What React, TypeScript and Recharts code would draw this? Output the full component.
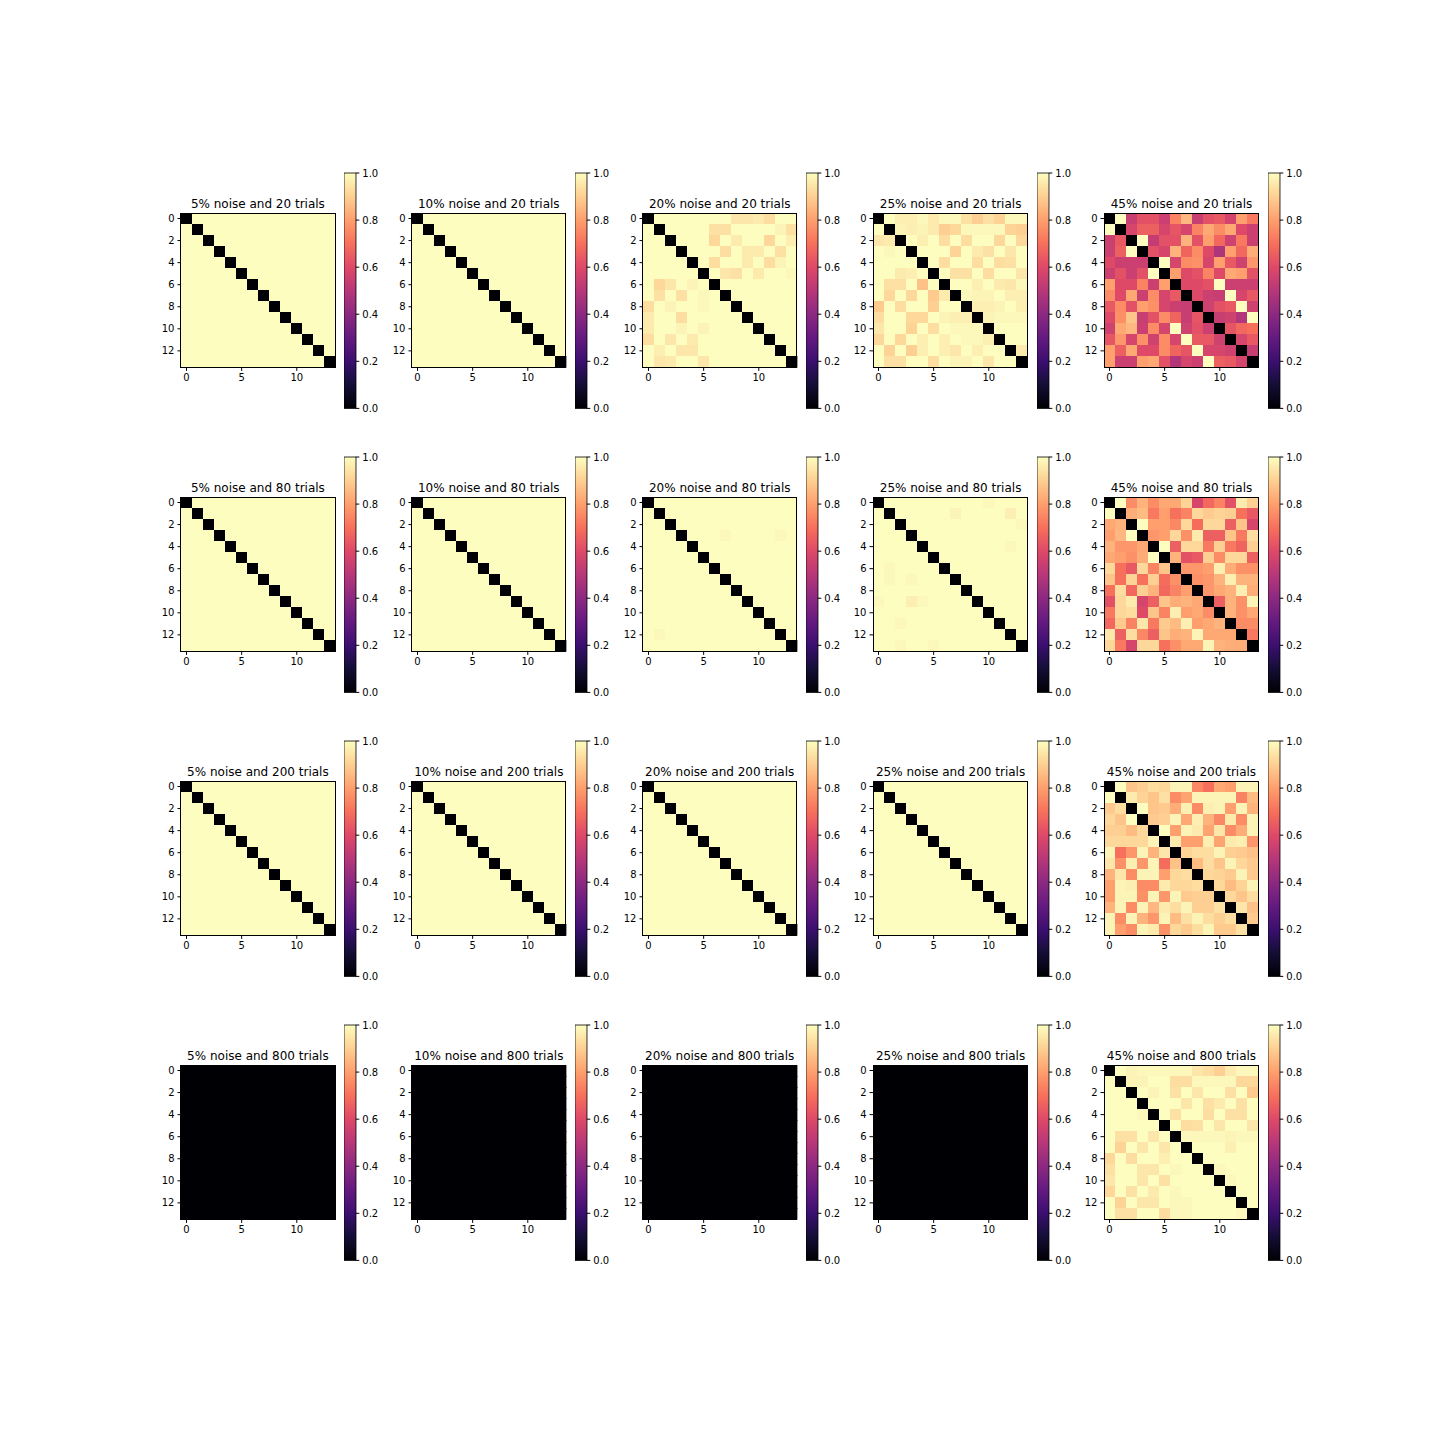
import { ScatterChart, Scatter, XAxis, YAxis, BarChart, Bar } from "recharts";

const NOISE = ["5%", "10%", "20%", "25%", "45%"];
const TRIALS = [20, 80, 200, 800];
const X_TICKS = [0, 5, 10];
const Y_TICKS = [0, 2, 4, 6, 8, 10, 12];
const CB_TICKS = [0, 0.2, 0.4, 0.6, 0.8, 1.0];

// cell values in hundredths, row by row
const IDENT = [
  [0, 100, 100, 100, 100, 100, 100, 100, 100, 100, 100, 100, 100, 100],
  [100, 0, 100, 100, 100, 100, 100, 100, 100, 100, 100, 100, 100, 100],
  [100, 100, 0, 100, 100, 100, 100, 100, 100, 100, 100, 100, 100, 100],
  [100, 100, 100, 0, 100, 100, 100, 100, 100, 100, 100, 100, 100, 100],
  [100, 100, 100, 100, 0, 100, 100, 100, 100, 100, 100, 100, 100, 100],
  [100, 100, 100, 100, 100, 0, 100, 100, 100, 100, 100, 100, 100, 100],
  [100, 100, 100, 100, 100, 100, 0, 100, 100, 100, 100, 100, 100, 100],
  [100, 100, 100, 100, 100, 100, 100, 0, 100, 100, 100, 100, 100, 100],
  [100, 100, 100, 100, 100, 100, 100, 100, 0, 100, 100, 100, 100, 100],
  [100, 100, 100, 100, 100, 100, 100, 100, 100, 0, 100, 100, 100, 100],
  [100, 100, 100, 100, 100, 100, 100, 100, 100, 100, 0, 100, 100, 100],
  [100, 100, 100, 100, 100, 100, 100, 100, 100, 100, 100, 0, 100, 100],
  [100, 100, 100, 100, 100, 100, 100, 100, 100, 100, 100, 100, 0, 100],
  [100, 100, 100, 100, 100, 100, 100, 100, 100, 100, 100, 100, 100, 0],
];

const ZERO = [
  [0, 0, 0, 0, 0, 0, 0, 0, 0, 0, 0, 0, 0, 0],
  [0, 0, 0, 0, 0, 0, 0, 0, 0, 0, 0, 0, 0, 0],
  [0, 0, 0, 0, 0, 0, 0, 0, 0, 0, 0, 0, 0, 0],
  [0, 0, 0, 0, 0, 0, 0, 0, 0, 0, 0, 0, 0, 0],
  [0, 0, 0, 0, 0, 0, 0, 0, 0, 0, 0, 0, 0, 0],
  [0, 0, 0, 0, 0, 0, 0, 0, 0, 0, 0, 0, 0, 0],
  [0, 0, 0, 0, 0, 0, 0, 0, 0, 0, 0, 0, 0, 0],
  [0, 0, 0, 0, 0, 0, 0, 0, 0, 0, 0, 0, 0, 0],
  [0, 0, 0, 0, 0, 0, 0, 0, 0, 0, 0, 0, 0, 0],
  [0, 0, 0, 0, 0, 0, 0, 0, 0, 0, 0, 0, 0, 0],
  [0, 0, 0, 0, 0, 0, 0, 0, 0, 0, 0, 0, 0, 0],
  [0, 0, 0, 0, 0, 0, 0, 0, 0, 0, 0, 0, 0, 0],
  [0, 0, 0, 0, 0, 0, 0, 0, 0, 0, 0, 0, 0, 0],
  [0, 0, 0, 0, 0, 0, 0, 0, 0, 0, 0, 0, 0, 0],
];

const M20_20 = [
  [0, 100, 100, 100, 100, 100, 100, 100, 95, 95, 96, 93, 100, 100],
  [100, 0, 100, 100, 100, 100, 94, 94, 100, 100, 100, 100, 98, 94],
  [100, 100, 0, 100, 100, 100, 92, 100, 96, 100, 100, 92, 100, 97],
  [100, 100, 100, 0, 100, 100, 100, 93, 100, 96, 96, 100, 94, 100],
  [100, 100, 100, 100, 0, 100, 93, 100, 100, 96, 100, 93, 98, 100],
  [100, 100, 100, 100, 100, 0, 100, 95, 94, 100, 96, 100, 100, 99],
  [100, 92, 95, 100, 98, 100, 0, 100, 100, 100, 100, 100, 100, 100],
  [100, 94, 100, 94, 100, 99, 100, 0, 100, 100, 100, 100, 100, 100],
  [93, 100, 98, 100, 100, 99, 100, 100, 0, 100, 100, 100, 100, 100],
  [96, 100, 100, 93, 100, 100, 100, 100, 100, 0, 100, 100, 100, 100],
  [96, 100, 100, 98, 100, 98, 100, 100, 100, 100, 0, 100, 100, 100],
  [93, 100, 95, 100, 96, 100, 100, 100, 100, 100, 100, 0, 100, 100],
  [100, 97, 100, 95, 95, 100, 100, 100, 100, 100, 100, 100, 0, 100],
  [100, 95, 96, 100, 100, 95, 100, 100, 100, 100, 100, 100, 100, 0],
];

const M25_20 = [
  [0, 100, 97, 97, 99, 96, 99, 99, 94, 90, 94, 91, 99, 99],
  [100, 0, 98, 97, 98, 96, 90, 92, 99, 99, 99, 99, 91, 90],
  [95, 96, 0, 100, 97, 100, 93, 100, 93, 100, 100, 92, 100, 92],
  [100, 99, 100, 0, 100, 100, 100, 91, 100, 96, 94, 100, 95, 100],
  [100, 100, 100, 100, 0, 100, 93, 100, 100, 93, 100, 93, 94, 100],
  [100, 100, 96, 97, 100, 0, 100, 94, 94, 100, 93, 100, 100, 95],
  [100, 94, 94, 100, 87, 100, 0, 100, 100, 97, 100, 96, 95, 99],
  [100, 92, 100, 92, 100, 89, 96, 0, 99, 98, 98, 100, 97, 97],
  [89, 100, 93, 100, 100, 90, 100, 100, 0, 97, 97, 98, 100, 97],
  [93, 100, 100, 92, 92, 100, 98, 97, 97, 0, 98, 99, 99, 99],
  [95, 100, 100, 91, 100, 93, 100, 99, 99, 99, 0, 100, 100, 100],
  [92, 100, 92, 100, 97, 100, 97, 100, 99, 99, 97, 0, 100, 100],
  [100, 91, 100, 90, 97, 100, 97, 95, 100, 97, 100, 100, 0, 96],
  [100, 94, 94, 100, 100, 93, 100, 98, 98, 100, 95, 100, 100, 0],
];

const M45_20 = [
  [0, 100, 54, 62, 62, 55, 74, 85, 54, 62, 64, 57, 80, 72],
  [100, 0, 58, 66, 66, 58, 63, 58, 74, 82, 76, 82, 60, 55],
  [55, 64, 0, 100, 53, 62, 62, 84, 62, 80, 68, 56, 72, 55],
  [55, 66, 100, 0, 62, 58, 84, 67, 76, 60, 48, 80, 68, 83],
  [60, 55, 55, 55, 0, 100, 58, 76, 77, 58, 80, 64, 56, 78],
  [55, 62, 55, 62, 100, 0, 80, 60, 62, 74, 60, 82, 80, 62],
  [80, 60, 60, 74, 55, 80, 0, 60, 60, 62, 100, 55, 55, 55],
  [76, 60, 82, 55, 76, 58, 64, 0, 60, 55, 54, 100, 58, 64],
  [64, 76, 62, 80, 77, 58, 55, 54, 0, 56, 62, 64, 100, 56],
  [60, 77, 88, 54, 62, 76, 67, 54, 63, 0, 54, 56, 49, 100],
  [56, 82, 85, 55, 76, 58, 100, 56, 62, 55, 0, 63, 68, 70],
  [63, 78, 58, 77, 56, 76, 58, 100, 64, 64, 56, 0, 58, 64],
  [80, 66, 82, 60, 60, 76, 67, 63, 100, 58, 58, 56, 0, 54],
  [80, 55, 55, 80, 82, 62, 49, 58, 55, 100, 66, 64, 58, 0],
];

const M20_80 = [
  [0, 100, 100, 100, 100, 100, 100, 100, 100, 100, 100, 100, 100, 100],
  [100, 0, 100, 100, 100, 100, 100, 100, 100, 100, 100, 100, 100, 100],
  [100, 100, 0, 100, 100, 100, 100, 100, 100, 100, 100, 100, 100, 100],
  [100, 100, 100, 0, 100, 100, 100, 99, 100, 100, 100, 100, 99, 100],
  [100, 100, 100, 100, 0, 100, 100, 100, 100, 100, 100, 100, 100, 100],
  [100, 100, 100, 100, 100, 0, 100, 100, 100, 100, 100, 100, 100, 100],
  [100, 100, 100, 100, 100, 100, 0, 100, 100, 100, 100, 100, 100, 100],
  [100, 100, 100, 100, 100, 100, 100, 0, 100, 100, 100, 100, 100, 100],
  [100, 100, 100, 100, 100, 100, 100, 100, 0, 100, 100, 100, 100, 100],
  [100, 100, 100, 100, 100, 100, 100, 100, 100, 0, 100, 100, 100, 100],
  [100, 100, 100, 100, 100, 100, 100, 100, 100, 100, 0, 100, 100, 100],
  [100, 100, 100, 100, 100, 100, 100, 100, 100, 100, 100, 0, 100, 100],
  [100, 99, 100, 100, 100, 100, 100, 100, 100, 100, 100, 100, 0, 100],
  [100, 100, 100, 100, 100, 100, 100, 100, 100, 100, 100, 100, 100, 0],
];

const M25_80 = [
  [0, 100, 100, 100, 100, 100, 100, 100, 100, 100, 99, 100, 100, 100],
  [100, 0, 100, 100, 100, 100, 100, 98, 100, 100, 100, 100, 97, 100],
  [100, 100, 0, 100, 100, 100, 100, 100, 100, 100, 100, 100, 100, 99],
  [100, 100, 100, 0, 100, 100, 100, 100, 100, 100, 100, 100, 100, 100],
  [100, 100, 100, 100, 0, 100, 100, 100, 100, 100, 100, 100, 99, 100],
  [100, 100, 100, 100, 100, 0, 100, 100, 100, 100, 100, 100, 100, 100],
  [100, 99, 100, 100, 100, 100, 0, 100, 100, 100, 100, 100, 100, 100],
  [100, 99, 100, 99, 100, 100, 100, 0, 100, 100, 100, 100, 100, 100],
  [100, 100, 100, 100, 100, 100, 100, 100, 0, 100, 100, 100, 100, 100],
  [99, 100, 100, 97, 99, 100, 100, 100, 100, 0, 100, 100, 100, 100],
  [100, 100, 100, 100, 100, 100, 100, 100, 100, 100, 0, 100, 100, 100],
  [100, 100, 99, 100, 100, 100, 100, 100, 100, 100, 100, 0, 100, 100],
  [100, 100, 100, 100, 100, 100, 100, 100, 100, 100, 100, 100, 0, 100],
  [100, 100, 99, 100, 100, 99, 100, 100, 100, 100, 100, 100, 100, 0],
];

const M45_80 = [
  [0, 100, 76, 84, 76, 82, 82, 91, 58, 68, 74, 62, 96, 90],
  [100, 0, 83, 86, 72, 80, 70, 74, 92, 89, 91, 90, 70, 64],
  [82, 84, 0, 100, 80, 80, 75, 92, 69, 92, 92, 66, 88, 58],
  [80, 85, 100, 0, 78, 80, 92, 77, 96, 66, 66, 88, 72, 93],
  [84, 78, 78, 82, 0, 100, 66, 92, 92, 72, 90, 72, 67, 90],
  [82, 80, 77, 83, 100, 0, 84, 62, 64, 90, 76, 92, 92, 66],
  [92, 70, 64, 92, 74, 88, 0, 78, 78, 80, 97, 83, 77, 77],
  [88, 70, 91, 70, 90, 69, 77, 0, 77, 78, 84, 97, 84, 84],
  [70, 93, 68, 90, 84, 68, 74, 80, 0, 78, 82, 84, 97, 83],
  [62, 92, 96, 58, 66, 88, 83, 84, 82, 0, 66, 84, 77, 98],
  [72, 92, 93, 60, 88, 74, 97, 80, 82, 76, 0, 84, 77, 82],
  [68, 89, 74, 95, 72, 89, 86, 97, 80, 82, 84, 0, 76, 76],
  [95, 66, 93, 75, 66, 88, 83, 84, 98, 82, 82, 82, 0, 72],
  [92, 72, 58, 92, 92, 70, 77, 82, 82, 98, 84, 83, 83, 0],
];

const M45_200 = [
  [0, 100, 88, 90, 93, 92, 98, 98, 75, 70, 82, 80, 98, 98],
  [100, 0, 96, 91, 88, 94, 76, 81, 98, 98, 98, 98, 74, 86],
  [89, 93, 0, 100, 88, 89, 83, 97, 76, 97, 98, 80, 98, 84],
  [92, 88, 100, 0, 89, 90, 98, 82, 97, 84, 75, 96, 76, 98],
  [90, 90, 86, 92, 0, 100, 80, 98, 96, 81, 95, 76, 83, 98],
  [92, 92, 92, 92, 98, 0, 96, 80, 80, 97, 81, 96, 97, 78],
  [98, 70, 78, 98, 84, 95, 0, 91, 93, 93, 98, 90, 89, 87],
  [95, 77, 97, 78, 98, 69, 87, 0, 86, 93, 88, 98, 92, 89],
  [84, 95, 76, 98, 98, 80, 92, 93, 0, 92, 91, 89, 98, 89],
  [80, 98, 97, 76, 76, 96, 92, 92, 93, 0, 92, 86, 91, 98],
  [80, 98, 98, 77, 98, 78, 98, 89, 90, 90, 0, 92, 88, 93],
  [84, 98, 76, 98, 85, 96, 93, 98, 90, 90, 94, 0, 95, 87],
  [98, 76, 98, 84, 78, 98, 86, 94, 98, 93, 90, 93, 0, 89],
  [98, 80, 76, 98, 96, 77, 92, 89, 93, 98, 89, 89, 94, 0],
];

const M45_800 = [
  [0, 100, 98, 99, 99, 99, 99, 99, 95, 93, 90, 96, 99, 99],
  [100, 0, 98, 98, 100, 100, 93, 93, 99, 99, 99, 99, 92, 92],
  [100, 100, 0, 100, 98, 100, 94, 100, 95, 100, 100, 94, 100, 89],
  [100, 100, 100, 0, 100, 100, 100, 95, 100, 94, 96, 100, 94, 100],
  [100, 100, 100, 99, 0, 100, 94, 100, 100, 93, 100, 94, 94, 100],
  [100, 100, 100, 100, 100, 0, 100, 93, 94, 100, 95, 100, 100, 95],
  [100, 94, 94, 100, 95, 100, 0, 99, 99, 99, 99, 98, 99, 99],
  [100, 91, 100, 95, 100, 95, 100, 0, 100, 100, 100, 97, 100, 100],
  [92, 100, 93, 100, 100, 97, 100, 100, 0, 100, 100, 100, 100, 100],
  [94, 100, 100, 95, 95, 100, 99, 100, 100, 0, 99, 100, 100, 100],
  [95, 100, 100, 95, 100, 94, 100, 100, 100, 100, 0, 99, 100, 100],
  [92, 100, 94, 100, 96, 100, 99, 100, 100, 100, 100, 0, 100, 100],
  [100, 91, 100, 95, 95, 100, 99, 99, 100, 100, 100, 100, 0, 100],
  [100, 94, 94, 100, 100, 93, 99, 99, 100, 100, 100, 100, 99, 0],
];

// rows = trials, columns = noise
const GRID = [
  [IDENT, IDENT, M20_20, M25_20, M45_20],
  [IDENT, IDENT, M20_80, M25_80, M45_80],
  [IDENT, IDENT, IDENT, IDENT, M45_200],
  [ZERO, ZERO, ZERO, ZERO, M45_800],
];

// magma colormap, 0.0 .. 1.0 in steps of 0.1
const MAGMA = [
  [0, 0, 4], [20, 14, 54], [59, 15, 112], [100, 26, 128], [140, 41, 129],
  [183, 55, 121], [222, 73, 104], [247, 112, 92], [254, 159, 109],
  [254, 207, 146], [252, 253, 191],
];

function magma(v: number) {
  const t = Math.max(0, Math.min(1, v)) * 10;
  const i = Math.min(9, Math.floor(t));
  const f = t - i;
  const a = MAGMA[i], b = MAGMA[i + 1];
  const c = a.map((x, k) => Math.round(x + (b[k] - x) * f));
  return `rgb(${c[0]},${c[1]},${c[2]})`;
}

const COL_LEFT = [180.7, 411.6, 642.5, 873.4, 1104.3];
const ROW_TOP = [213.3, 497.3, 781.3, 1065.3];
const PW = 154.4;
const CELL = PW / 14;
const CBW = 11.8;
const CBH = 235.4;
const TICK = { fontSize: 10, fill: "#000" };

function Heatmap({ m, x, y, title }: { m: number[][]; x: number; y: number; title: string }) {
  const data = m.flatMap((row, r) => row.map((v, c) => ({ c, r, v: v / 100 })));
  return (
    <>
      <div style={{ position: "absolute", left: x - 40, top: y - 16.1, width: PW + 80, textAlign: "center", fontSize: 12, lineHeight: "14px", whiteSpace: "nowrap" }}>
        {title}
      </div>
      <div style={{ position: "absolute", left: x - 40, top: y }}>
        <ScatterChart width={40 + PW + 4} height={PW + 24} margin={{ top: 0, right: 4, bottom: 0, left: 0 }}>
          <XAxis type="number" dataKey="c" domain={[-0.5, 13.5]} ticks={X_TICKS} interval={0} allowDataOverflow
            height={24} axisLine={false} tickLine={{ stroke: "#000" }} tickSize={3.5} tickMargin={3} tick={TICK} />
          <YAxis type="number" dataKey="r" domain={[-0.5, 13.5]} reversed ticks={Y_TICKS} interval={0} allowDataOverflow
            width={40} axisLine={false} tickLine={{ stroke: "#000" }} tickSize={3.5} tickMargin={3} tick={TICK} />
          <Scatter data={data} isAnimationActive={false}
            shape={(p: any) => (
              <rect x={p.cx - CELL / 2} y={p.cy - CELL / 2} width={CELL + 1} height={CELL + 1}
                fill={magma(p.payload.v)} shapeRendering="crispEdges" />
            )} />
        </ScatterChart>
      </div>
      <div style={{ position: "absolute", left: x - 0.5, top: y - 0.5, width: PW + 1, height: PW + 1, boxSizing: "border-box", border: "1px solid #000", pointerEvents: "none" }} />
    </>
  );
}

function Colorbar({ x, y, id }: { x: number; y: number; id: string }) {
  return (
    <div style={{ position: "absolute", left: x, top: y - 8 }}>
      <BarChart width={CBW + 40} height={CBH + 16} data={[{ k: "cb", v: 1 }]} barCategoryGap={0}
        margin={{ top: 8, right: 0, bottom: 8, left: 0 }}>
        <defs>
          <linearGradient id={id} x1="0" y1="1" x2="0" y2="0">
            {MAGMA.map((c, i) => (
              <stop key={i} offset={`${i * 10}%`} stopColor={`rgb(${c[0]},${c[1]},${c[2]})`} />
            ))}
          </linearGradient>
        </defs>
        <XAxis dataKey="k" hide />
        <YAxis orientation="right" domain={[0, 1]} ticks={CB_TICKS} interval={0} width={40} axisLine={false}
          tickLine={{ stroke: "#000" }} tickSize={3.5} tickMargin={3} tick={TICK} tickFormatter={(v: number) => v.toFixed(1)} />
        <Bar dataKey="v" fill={`url(#${id})`} stroke="#000" strokeWidth={0.8} isAnimationActive={false} />
      </BarChart>
    </div>
  );
}

export default function App() {
  return (
    <div style={{ position: "absolute", left: 0, top: 0, width: 1440, height: 1440, background: "#fff", fontFamily: "'DejaVu Sans', sans-serif", color: "#000" }}>
      {TRIALS.map((t, r) =>
        NOISE.map((n, c) => (
          <div key={`${r}-${c}`}>
            <Heatmap m={GRID[r][c]} x={COL_LEFT[c]} y={ROW_TOP[r]} title={`${n} noise and ${t} trials`} />
            <Colorbar x={COL_LEFT[c] + 163.5} y={ROW_TOP[r] - 40} id={`magma-${r}-${c}`} />
          </div>
        ))
      )}
    </div>
  );
}
